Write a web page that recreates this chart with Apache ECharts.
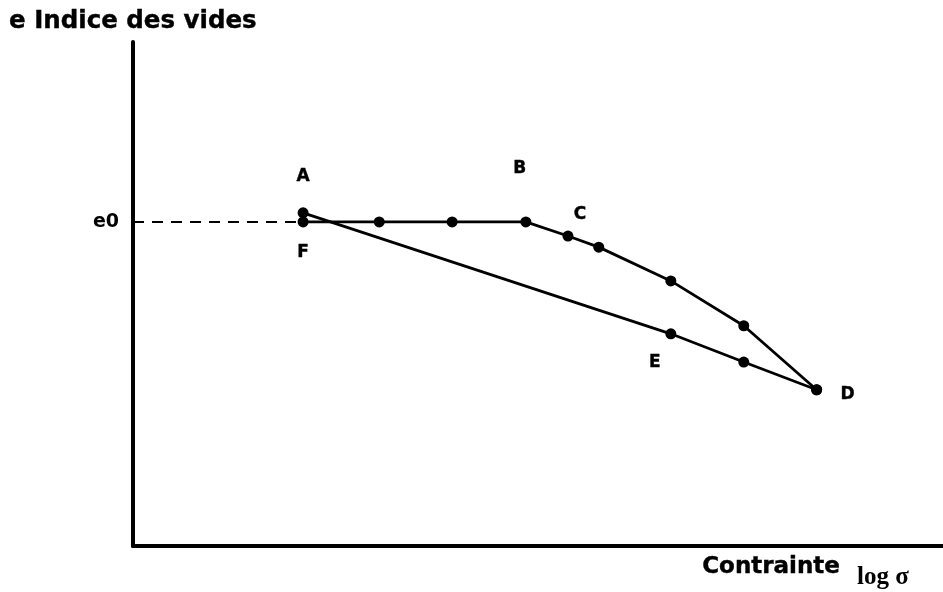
<!DOCTYPE html>
<html>
<head>
<meta charset="utf-8">
<script src="https://cdn.jsdelivr.net/npm/echarts@6/dist/echarts.min.js"></script>
<style>html,body{margin:0;padding:0;background:#fff}#c{width:943px;height:592px}</style>
</head>
<body>
<div id="c"></div>
<script>
// ---- data (arbitrary units: x = log σ, y = void ratio e) ----
const loadX   = [21.0, 30.4, 39.4, 48.5, 53.7, 57.5, 66.4, 75.4, 84.4];
const loadY   = [64.3, 64.3, 64.3, 64.3, 61.5, 59.3, 52.6, 43.7, 31.0];
const loadLbl = ['F', '', '', 'B', 'C', '', '', '', 'D'];
const unloadX   = [84.4, 75.4, 66.4, 21.0];
const unloadY   = [31.0, 36.5, 42.1, 66.1];
const unloadLbl = ['', '', 'E', 'A'];
const e0Value = 64.3;
const dashX = [0, 21.0];
const yTitle = 'e Indice des vides';
const xTitle = 'Contrainte';
const xUnit = 'log σ';

// label offsets (style, kept out of data)
const offsets = { A: [0, -36], B: [-6, -53], C: [12, -21], D: [31, 5], E: [-16, 29], F: [0, 31] };
const lblFont = { fontFamily: 'DejaVu Sans', fontWeight: 'bold', fontSize: 17, color: '#000', textBorderColor: '#000', textBorderWidth: 0.4 };

function build(xs, ys, lbls) {
  return xs.map((x, i) => {
    const item = { value: [x, ys[i]] };
    const l = lbls[i];
    if (l) {
      item.label = Object.assign({ show: true, position: 'inside', formatter: l, offset: offsets[l] }, lblFont);
    }
    return item;
  });
}

const chart = echarts.init(document.getElementById('c'));
chart.setOption({
  animation: false,
  backgroundColor: '#fff',
  title: {
    text: yTitle, left: 9, top: 9, padding: 0,
    textStyle: { fontFamily: 'DejaVu Sans', fontWeight: 'bold', fontSize: 24.5, color: '#000', textBorderColor: '#000', textBorderWidth: 0.4 }
  },
  grid: { left: 133, right: 0, top: 42, bottom: 46 },
  xAxis: {
    type: 'value', min: 0, max: 100,
    axisLine: { show: true, lineStyle: { color: '#000', width: 4 } },
    axisTick: { show: false }, axisLabel: { show: false }, splitLine: { show: false }
  },
  yAxis: {
    type: 'value', min: 0, max: 100,
    axisLine: { show: true, lineStyle: { color: '#000', width: 4 } },
    axisTick: { show: false }, splitLine: { show: false },
    axisLabel: {
      show: true, customValues: [e0Value], formatter: () => 'e0', margin: 14,
      fontFamily: 'DejaVu Sans', fontWeight: 'bold', fontSize: 19, color: '#000'
    }
  },
  series: [
    {
      type: 'line', data: dashX.map(x => [x, e0Value]), symbol: 'none',
      lineStyle: { color: '#000', width: 2, type: [11, 8] }, z: 1
    },
    {
      type: 'line', data: build(loadX, loadY, loadLbl),
      symbol: 'circle', symbolSize: 11, itemStyle: { color: '#000' },
      lineStyle: { color: '#000', width: 2.8 }, z: 3
    },
    {
      type: 'line', data: build(unloadX, unloadY, unloadLbl),
      symbol: 'circle', symbolSize: 11, itemStyle: { color: '#000' },
      lineStyle: { color: '#000', width: 2.8 }, z: 3
    }
  ],
  graphic: [
    { type: 'text', left: 702, top: 555, style: { text: xTitle, font: 'bold 23px "DejaVu Sans"', fill: '#000', stroke: '#000', lineWidth: 0.4 } },
    { type: 'text', left: 857, top: 565, style: { text: xUnit, font: 'bold 25px "Liberation Serif"', fill: '#000' } }
  ]
});
</script>
</body>
</html>
